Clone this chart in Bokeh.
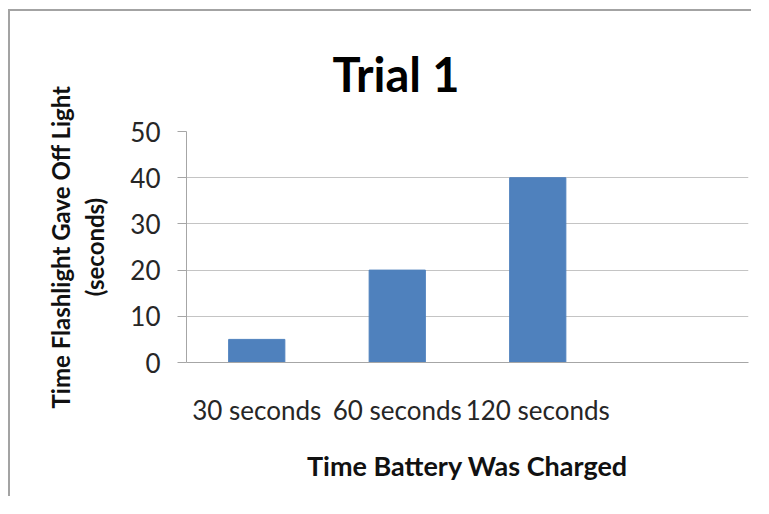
from bokeh.plotting import figure
from bokeh.models import FactorRange, Range1d, FixedTicker
from bokeh.embed import file_html
from bokeh.resources import INLINE

# ---- data ----
categories = ["30 seconds", "60 seconds", "120 seconds"]
values = [5, 20, 40]
y_ticks = [0, 10, 20, 30, 40, 50]
title_text = "Trial 1"
x_title = "Time Battery Was Charged"
y_title = "Time Flashlight Gave Off Light\n(seconds)"

# ---- layout ----
OX, OY = 10, 11            # canvas origin on the page (css margin)
W, H = 743, 487
FL, FR, FT, FB = 186 - OX, 748 - OX, 131 - OY, 362 - OY
YMAX = 50

factors = categories + [" "]

p = figure(width=W, height=H, x_range=FactorRange(factors=factors),
           y_range=Range1d(0, YMAX), output_backend="svg",
           toolbar_location=None, title=title_text,
           min_border_left=FL, min_border_right=W - FR,
           min_border_top=FT, min_border_bottom=H - FB)
p.styles = {"margin-left": f"{OX}px", "margin-top": f"{OY}px",
            "box-shadow": "-2px -2px 0px 0px #a3a3a3"}
p.outline_line_color = None
p.background_fill_color = "white"
p.border_fill_color = "white"

FONT = "Lato"
p.title.align = "left"
p.title.offset = 332 - OX - FL
p.title.standoff = 60
p.title.text_font = FONT
p.title.text_font_size = "47px"
p.title.text_font_style = "bold"
p.title.text_color = "#000000"

p.vbar(x=categories, top=values, width=0.40, color="#4F81BD")

# x axis
xa = p.xaxis[0]
xa.axis_line_color = "#a6a6a6"
xa.major_tick_line_color = None
xa.minor_tick_line_color = None
xa.major_label_standoff = 25
xa.major_label_text_font = FONT
xa.major_label_text_font_size = "26px"
xa.major_label_text_color = "#262626"
xa.axis_label = x_title
xa.axis_label_text_font = FONT
xa.axis_label_text_font_size = "27px"
xa.axis_label_text_font_style = "bold"
xa.axis_label_text_color = "#111111"
xa.axis_label_standoff = 20

# y axis
ya = p.yaxis[0]
ya.ticker = FixedTicker(ticks=y_ticks)
ya.axis_line_color = "#a6a6a6"
ya.major_tick_line_color = "#a6a6a6"
ya.major_tick_in = 0
ya.major_tick_out = 9
ya.minor_tick_line_color = None
ya.major_label_standoff = 17
ya.major_label_text_font = FONT
ya.major_label_text_font_size = "26px"
ya.major_label_text_color = "#262626"
ya.axis_label = y_title
ya.axis_label_text_font = FONT
ya.axis_label_text_font_size = "24px"
ya.axis_label_text_font_style = "bold"
ya.axis_label_text_color = "#111111"
ya.axis_label_text_line_height = 1.17
ya.axis_label_standoff = 18

p.xgrid.grid_line_color = None
p.ygrid.ticker = FixedTicker(ticks=y_ticks)
p.ygrid.grid_line_color = "#c4c4c4"

open("out.html", "w").write(file_html(p, INLINE))
